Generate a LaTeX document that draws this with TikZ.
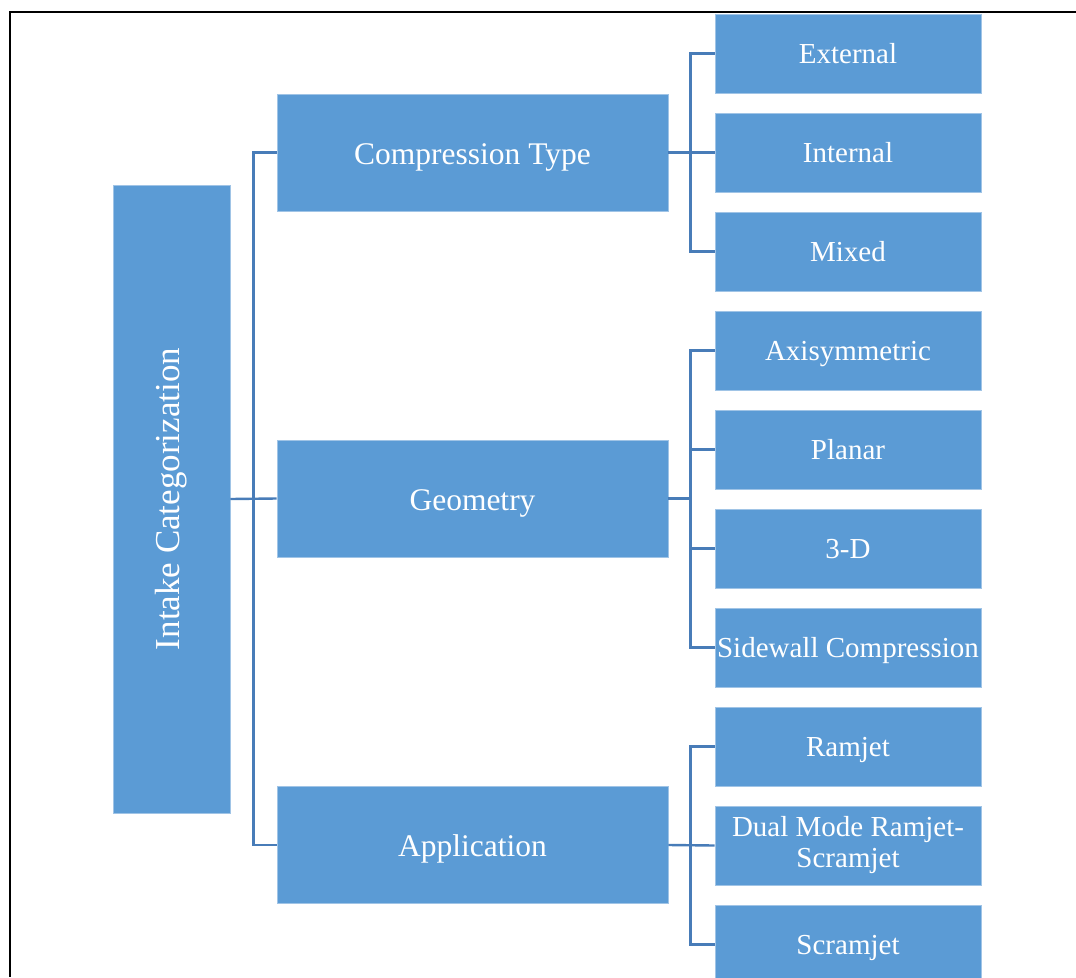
\documentclass[tikz,border=0pt]{standalone}
\usepackage{fontspec}
\setmainfont{Liberation Serif}
\usepackage{tikz}
\definecolor{boxblue}{RGB}{91,155,213}
\definecolor{boxedge}{RGB}{160,196,230}
\definecolor{linkblue}{RGB}{72,124,184}
\tikzset{rootbox/.style = {draw = boxedge, line width = 0.8pt, fill = boxblue, text = white, inner sep = 0pt, minimum width = 117pt, minimum height = 628pt}}
\tikzset{catbox/.style = {draw = boxedge, line width = 0.8pt, fill = boxblue, text = white, inner sep = 0pt, minimum width = 391pt, minimum height = 117pt, text height = 24pt, text depth = 1pt, font = \fontsize{31.5}{34}\selectfont}}
\tikzset{leafbox/.style = {draw = boxedge, line width = 0.8pt, fill = boxblue, text = white, inner sep = 0pt, minimum width = 266pt, minimum height = 79pt, align = center, font = \fontsize{29}{31}\selectfont}}
\tikzset{oneline/.style = {text height = 20pt, text depth = 1pt}}
\tikzset{link/.style = {draw = linkblue, line width = 2.4pt}}

\begin{document}
\begin{tikzpicture}[x = 1pt, y = -1pt]
			\useasboundingbox (0, 0) rectangle (1076, 977);
			\draw[line width = 2pt] (1076, 12) -- (10, 12) -- (10, 977);

			\node[rootbox] (root) at (171.5, 499) {};
			\node[text = white, rotate = 90, font = \fontsize{35}{40}\selectfont] (title) at (root.center) {Intake Categorization};

			\node[catbox] (comp) at (472.5, 152.5) {Compression Type};
			\node[catbox] (geo) at (472.5, 498.5) {Geometry};
			\node[catbox] (app) at (472.5, 845) {Application};

			\node[leafbox, oneline] (ext) at (848, 53.5) {External};
			\node[leafbox, oneline] (int) at (848, 152.5) {Internal};
			\node[leafbox, oneline] (mix) at (848, 251.5) {Mixed};
			\node[leafbox, oneline] (axi) at (848, 350.5) {Axisymmetric};
			\node[leafbox, oneline] (pla) at (848, 449.5) {Planar};
			\node[leafbox, oneline] (thd) at (848, 548.5) {3-D};
			\node[leafbox, oneline] (side) at (848, 647.5) {Sidewall Compression};
			\node[leafbox, oneline] (ram) at (848, 746.5) {Ramjet};
			\node[leafbox] (dual) at (848, 845.5) {Dual Mode Ramjet-\\Scramjet};
			\node[leafbox, oneline] (scr) at (848, 944.5) {Scramjet};

			\draw[link] (comp.west) -- ++(-23, 0) |- (app.west);
			\draw[link] (root.east) -- (geo.west);

			\draw[link] (ext.west) -- ++(-24, 0) |- (mix.west);
			\draw[link] (comp.east) -- (int.west);
			\draw[link] (axi.west) -- ++(-24, 0) |- (side.west);
			\draw[link] (pla.west) -- ++(-24, 0);
			\draw[link] (thd.west) -- ++(-24, 0);
			\draw[link] (geo.east) -- ++(23, 0);
			\draw[link] (ram.west) -- ++(-24, 0) |- (scr.west);
			\draw[link] (app.east) -- (dual.west);
		\end{tikzpicture}
\end{document}
